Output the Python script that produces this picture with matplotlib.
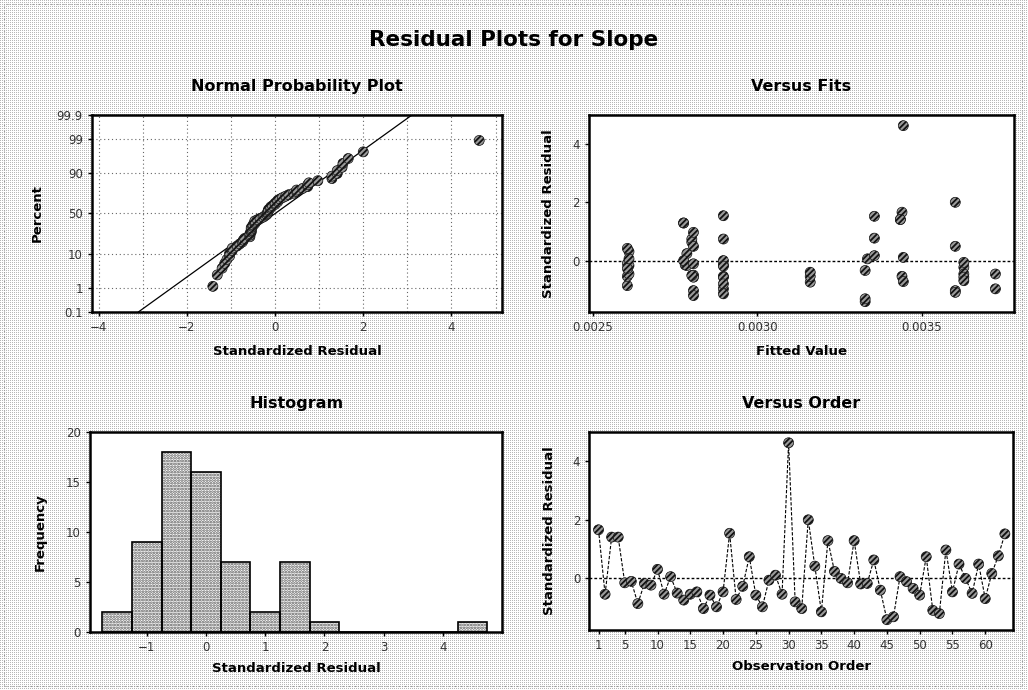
import matplotlib
matplotlib.use("Agg")
import matplotlib.pyplot as plt
import numpy as np
from statistics import NormalDist
from matplotlib.patches import Rectangle

# standardized residuals in observation order
resid = [1.66, -0.54, 1.41, 1.41, -0.15, -0.10, -0.86, -0.17, -0.23, 0.31,
         -0.54, 0.06, -0.50, -0.74, -0.54, -0.46, -1.03, -0.57, -0.97, -0.46,
         1.54, -0.72, -0.27, 0.74, -0.57, -0.97, -0.06, 0.11, -0.54, 4.63,
         -0.80, -1.03, 2.00, 0.42, -1.14, 1.29, 0.24, 0.00, -0.15, 1.29,
         -0.19, -0.17, 0.63, -0.40, -1.41, -1.31, 0.06, -0.11, -0.34, -0.57,
         0.74, -1.09, -1.20, 0.97, -0.46, 0.49, 0.00, -0.51, 0.49, -0.69,
         0.17, 0.77, 1.52]

# fitted values, same order
fits = [0.003440, 0.003440, 0.003435, 0.003435, 0.002897, 0.002605, 0.002605, 0.002610, 0.003628, 0.002610,
        0.002897, 0.003335, 0.002806, 0.003161, 0.002605, 0.003628, 0.003602, 0.003628, 0.002897, 0.002610,
        0.002897, 0.003444, 0.002605, 0.002897, 0.002897, 0.003724, 0.003628, 0.003444, 0.003161, 0.003444,
        0.002897, 0.002806, 0.003602, 0.002605, 0.002897, 0.002776, 0.002786, 0.002897, 0.002781, 0.002776,
        0.002897, 0.002786, 0.002801, 0.003161, 0.003328, 0.003328, 0.002610, 0.002806, 0.003328, 0.002806,
        0.002801, 0.003602, 0.002806, 0.002806, 0.003724, 0.003602, 0.002776, 0.002801, 0.002806, 0.003628,
        0.003356, 0.003356, 0.003356]

order = list(range(1, 64))
pct_ticks = [0.1, 1, 10, 50, 90, 99, 99.9]
pct_labels = ["0.1", "1", "10", "50", "90", "99", "99.9"]
hist_bins = np.arange(-1.75, 5.0, 0.5)
order_ticks = [1, 5, 10, 15, 20, 25, 30, 35, 40, 45, 50, 55, 60]
fit_ticks = [0.0025, 0.0030, 0.0035]

plt.rcParams["font.family"] = "DejaVu Sans"
plt.rcParams["hatch.linewidth"] = 1.3

W, H = 1028, 690
fig = plt.figure(figsize=(W / 100, H / 100), dpi=100)

# stippled background
yy, xx = np.mgrid[0:H, 0:W]
bg = np.where((xx % 2 == 0) & (yy % 2 == 0), 0.72, 1.0)
fig.figimage(np.dstack([bg, bg, bg]), xo=0, yo=0, zorder=-5)
fig.patches.append(Rectangle((0.004, 0.006), 0.99, 0.988, transform=fig.transFigure,
                             fill=False, edgecolor="#999999", lw=0.8, ls=":"))

fig.text(0.5, 0.942, "Residual Plots for Slope", ha="center", va="center",
         fontsize=15.5, fontweight="bold")

lab = dict(fontsize=9.5, fontweight="bold")
tit = dict(fontsize=11.5, fontweight="bold", pad=17)
mk = dict(s=52, facecolor="#9a9a9a", edgecolor="#111111", hatch="//////", linewidths=0.5, zorder=3)


def style(ax):
    ax.set_facecolor("white")
    for sp in ax.spines.values():
        sp.set_linewidth(1.8)
    ax.tick_params(direction="out", length=3, width=1, labelsize=8.5, labelcolor="#333333")


# normal probability plot
nd = NormalDist()
ax1 = fig.add_axes([0.0895, 0.548, 0.399, 0.2855])
style(ax1)
srt = np.sort(resid)
n = len(srt)
zs = [nd.inv_cdf((i + 1 - 0.3) / (n + 0.4)) for i in range(n)]
mu, sd = np.mean(resid), np.std(resid, ddof=1)
zl = np.array([nd.inv_cdf(0.001), nd.inv_cdf(0.999)])
ax1.plot(mu + sd * zl, zl, color="black", lw=0.9, zorder=2)
ax1.scatter(srt, zs, **mk)
ax1.set_yticks([nd.inv_cdf(p / 100) for p in pct_ticks])
ax1.set_yticklabels(pct_labels)
ax1.set_ylim(nd.inv_cdf(0.001), nd.inv_cdf(0.999))
ax1.set_xlim(-4.15, 5.15)
ax1.set_xticks([-4, -2, 0, 2, 4])
ax1.set_xticks(np.arange(-3, 6, 2), minor=True)
ax1.tick_params(which="minor", length=0)
ax1.grid(True, which="both", color="#666666", ls=(0, (1, 2.5)), lw=0.8)
ax1.set_axisbelow(True)
ax1.set_title("Normal Probability Plot", **tit)
ax1.set_xlabel("Standardized Residual", labelpad=8, **lab)
ax1.set_ylabel("Percent", labelpad=9, **lab)

# versus fits
ax2 = fig.add_axes([0.5725, 0.548, 0.4134, 0.2855])
style(ax2)
ax2.axhline(0, color="black", lw=1, ls=(0, (2, 1.5)), zorder=1)
ax2.scatter(fits, resid, **mk)
ax2.set_xlim(0.002487, 0.003779)
ax2.set_ylim(-1.76, 5.0)
ax2.set_xticks(fit_ticks)
ax2.set_xticklabels(["%.4f" % v for v in fit_ticks])
ax2.set_yticks([0, 2, 4])
ax2.set_title("Versus Fits", **tit)
ax2.set_xlabel("Fitted Value", labelpad=8, **lab)
ax2.set_ylabel("Standardized Residual", labelpad=12, **lab)

# histogram
ax3 = fig.add_axes([0.0875, 0.084, 0.401, 0.29])
style(ax3)
ax3.hist(resid, bins=hist_bins, facecolor="white", edgecolor="#555555", hatch="......", lw=0, zorder=2)
ax3.hist(resid, bins=hist_bins, fill=False, edgecolor="black", lw=1.2, zorder=3)
ax3.set_xlim(-1.96, 5.0)
ax3.set_ylim(0, 20)
ax3.set_xticks([-1, 0, 1, 2, 3, 4])
ax3.set_yticks([0, 5, 10, 15, 20])
ax3.set_title("Histogram", **tit)
ax3.set_xlabel("Standardized Residual", labelpad=6, **lab)
ax3.set_ylabel("Frequency", labelpad=14, **lab)

# versus order
ax4 = fig.add_axes([0.5733, 0.087, 0.4125, 0.287])
style(ax4)
ax4.axhline(0, color="black", lw=1, ls=(0, (2, 1.5)), zorder=1)
ax4.plot(order, resid, color="black", lw=0.8, ls=(0, (3, 1.5)), zorder=2)
ax4.scatter(order, resid, **mk)
ax4.set_xlim(-0.4, 64.3)
ax4.set_ylim(-1.76, 5.0)
ax4.set_xticks(order_ticks)
ax4.set_yticks([0, 2, 4])
ax4.set_title("Versus Order", **tit)
ax4.set_xlabel("Observation Order", labelpad=6, **lab)
ax4.set_ylabel("Standardized Residual", labelpad=12, **lab)

fig.savefig("out.png", dpi=100)
